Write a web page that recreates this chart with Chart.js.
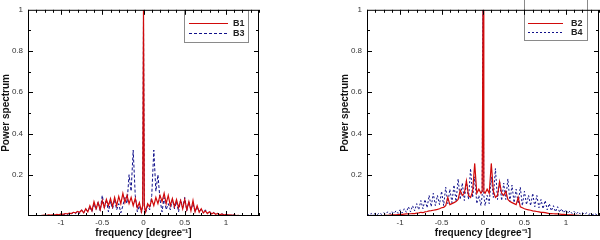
<!DOCTYPE html>
<html>
<head>
<meta charset="utf-8">
<script src="https://cdn.jsdelivr.net/npm/chart.js@4/dist/chart.umd.min.js"></script>
<style>
  html, body { margin: 0; padding: 0; background: #fff; }
  #wrap { position: relative; width: 600px; height: 240px; }
  .panel { position: absolute; top: 0; width: 300px; height: 240px; }
</style>
</head>
<body>
<div id="wrap">
  <div class="panel" style="left:0"><canvas id="left"></canvas></div>
  <div class="panel" style="left:300px"><canvas id="right"></canvas></div>
</div>
<script>
// frequency grid [degree^-1]
const freq = [
  -1.4, -1.375, -1.35, -1.325, -1.3, -1.275, -1.25, -1.225, -1.2, -1.175,
  -1.15, -1.125, -1.1, -1.075, -1.05, -1.025, -1, -0.975, -0.95, -0.925,
  -0.9, -0.875, -0.85, -0.825, -0.8, -0.775, -0.75, -0.725, -0.7, -0.675,
  -0.65, -0.625, -0.6, -0.575, -0.55, -0.525, -0.5, -0.475, -0.45, -0.425,
  -0.4, -0.375, -0.35, -0.325, -0.3, -0.275, -0.25, -0.225, -0.2, -0.175,
  -0.15, -0.125, -0.1, -0.075, -0.05, -0.025,
  -0.01, 0, 0.01,
  0.025, 0.05, 0.075, 0.1, 0.125, 0.15, 0.175, 0.2, 0.225, 0.25,
  0.275, 0.3, 0.325, 0.35, 0.375, 0.4, 0.425, 0.45, 0.475, 0.5,
  0.525, 0.55, 0.575, 0.6, 0.625, 0.65, 0.675, 0.7, 0.725, 0.75,
  0.775, 0.8, 0.825, 0.85, 0.875, 0.9, 0.925, 0.95, 0.975, 1,
  1.025, 1.05, 1.075, 1.1, 1.125, 1.15, 1.175, 1.2, 1.225, 1.25,
  1.275, 1.3, 1.325, 1.35, 1.375, 1.4
];

// left panel
const B1 = [
  0, 0, 0, 0, 0, 0.001, 0.002, 0.003, 0.004, 0.003,
  0.005, 0.004, 0.006, 0.005, 0.008, 0.006, 0.01, 0.008, 0.012, 0.01,
  0.014, 0.012, 0.018, 0.015, 0.022, 0.018, 0.028, 0.015, 0.035, 0.02,
  0.05, 0.025, 0.07, 0.035, 0.065, 0.03, 0.075, 0.04, 0.08, 0.05,
  0.085, 0.045, 0.09, 0.05, 0.095, 0.06, 0.11, 0.065, 0.1, 0.06,
  0.09, 0.05, 0.085, 0.04, 0.065, 0.02,
  0.05, 1.0, 0.05,
  0.02, 0.06, 0.045, 0.08, 0.05, 0.09, 0.06, 0.1, 0.07, 0.11,
  0.06, 0.1, 0.05, 0.085, 0.045, 0.08, 0.04, 0.075, 0.035, 0.08,
  0.03, 0.07, 0.025, 0.075, 0.02, 0.05, 0.018, 0.035, 0.015, 0.025,
  0.012, 0.02, 0.01, 0.016, 0.008, 0.012, 0.006, 0.01, 0.005, 0.008,
  0.004, 0.006, 0.003, 0.005, 0.002, 0.003, 0.001, 0.002, 0, 0.001,
  0, 0, 0, 0, 0, 0
];
const B3 = [
  0, 0, 0, 0, 0, 0, 0.001, 0, 0.002, 0.001,
  0.003, 0.002, 0.005, 0.003, 0.006, 0.004, 0.008, 0.005, 0.01, 0.007,
  0.012, 0.008, 0.018, 0.01, 0.025, 0.012, 0.03, 0.015, 0.035, 0.02,
  0.045, 0.02, 0.06, 0.03, 0.07, 0.025, 0.1, 0.04, 0.08, 0.02,
  0.07, 0.035, 0.08, 0.03, 0.06, 0.015, 0.05, 0.09, 0.06, 0.2,
  0.12, 0.32, 0.1, 0.02, 0.05, 0.015,
  0.05, 0.98, 0.05,
  0.015, 0.05, 0.03, 0.1, 0.32, 0.12, 0.2, 0.08, 0.02, 0.09,
  0.03, 0.06, 0.03, 0.08, 0.035, 0.07, 0.02, 0.08, 0.04, 0.09,
  0.025, 0.07, 0.03, 0.06, 0.02, 0.045, 0.02, 0.035, 0.015, 0.03,
  0.012, 0.025, 0.01, 0.018, 0.008, 0.012, 0.005, 0.01, 0.007, 0.008,
  0.004, 0.006, 0.003, 0.005, 0.002, 0.002, 0.001, 0.001, 0, 0.001,
  0, 0, 0, 0, 0, 0
];

// right panel
const B2 = [
  0, 0, 0, 0, 0, 0.001, 0.001, 0.002, 0.002, 0.003,
  0.003, 0.004, 0.005, 0.005, 0.006, 0.007, 0.008, 0.008, 0.009, 0.01,
  0.01, 0.011, 0.012, 0.012, 0.014, 0.015, 0.018, 0.016, 0.02, 0.022,
  0.025, 0.026, 0.028, 0.03, 0.032, 0.035, 0.04, 0.042, 0.05, 0.09,
  0.055, 0.06, 0.065, 0.07, 0.08, 0.125, 0.1, 0.11, 0.17, 0.1,
  0.09, 0.12, 0.255, 0.11, 0.13, 0.11,
  0.12, 1.0, 0.12,
  0.11, 0.13, 0.11, 0.255, 0.12, 0.09, 0.1, 0.165, 0.11, 0.1,
  0.12, 0.08, 0.07, 0.065, 0.06, 0.055, 0.09, 0.045, 0.04, 0.035,
  0.032, 0.03, 0.028, 0.025, 0.024, 0.022, 0.02, 0.018, 0.018, 0.016,
  0.014, 0.012, 0.012, 0.011, 0.01, 0.01, 0.009, 0.008, 0.008, 0.007,
  0.006, 0.005, 0.005, 0.004, 0.003, 0.003, 0.002, 0.002, 0.001, 0.001,
  0, 0, 0, 0, 0, 0
];
const B4 = [
  0.01, 0.005, 0.012, 0.006, 0.013, 0.007, 0.015, 0.008, 0.016, 0.009,
  0.02, 0.01, 0.022, 0.012, 0.025, 0.013, 0.03, 0.015, 0.035, 0.018,
  0.045, 0.02, 0.05, 0.025, 0.06, 0.03, 0.075, 0.035, 0.08, 0.04,
  0.1, 0.045, 0.11, 0.05, 0.1, 0.055, 0.12, 0.05, 0.14, 0.06,
  0.13, 0.065, 0.15, 0.07, 0.18, 0.08, 0.16, 0.075, 0.17, 0.08,
  0.23, 0.09, 0.19, 0.06, 0.1, 0.05,
  0.1, 1.0, 0.1,
  0.05, 0.1, 0.06, 0.19, 0.09, 0.23, 0.08, 0.17, 0.075, 0.16,
  0.08, 0.18, 0.07, 0.15, 0.065, 0.13, 0.06, 0.14, 0.05, 0.12,
  0.055, 0.1, 0.05, 0.11, 0.045, 0.1, 0.04, 0.08, 0.035, 0.075,
  0.03, 0.06, 0.025, 0.05, 0.02, 0.045, 0.018, 0.035, 0.015, 0.03,
  0.013, 0.025, 0.012, 0.022, 0.01, 0.02, 0.009, 0.016, 0.008, 0.015,
  0.007, 0.013, 0.006, 0.012, 0.005, 0.01
];

const xTicks = [-1, -0.5, 0, 0.5, 1];
const yTicks = [0.2, 0.4, 0.6, 0.8, 1];

const RED = '#d10a0a';
const BLUE = '#10108a';
const FONT = 'Arial, "Liberation Sans", sans-serif';

// frame with inward ticks on all sides + boxed legend
const framePlugin = {
  id: 'frame',
  afterDatasetsDraw(chart, args, opts) {
    const { ctx, chartArea: a, scales: { x, y } } = chart;
    ctx.save();
    ctx.lineWidth = 1;

    // legend box
    const lg = opts.legend;
    ctx.fillStyle = '#fff';
    ctx.fillRect(lg.x0, lg.y0, lg.x1 - lg.x0, lg.y1 - lg.y0);
    ctx.strokeStyle = '#8a8a8a';
    ctx.strokeRect(lg.x0 + 0.5, lg.y0 + 0.5, lg.x1 - lg.x0, lg.y1 - lg.y0);
    chart.data.datasets.forEach((ds, i) => {
      const ly = lg.rows[i] + 0.5;
      ctx.strokeStyle = ds.borderColor;
      ctx.lineWidth = ds.borderWidth;
      ctx.setLineDash(ds.borderDash || []);
      ctx.beginPath();
      ctx.moveTo(lg.lx0, ly);
      ctx.lineTo(lg.lx1, ly);
      ctx.stroke();
      ctx.setLineDash([]);
      ctx.fillStyle = '#222';
      ctx.font = 'bold 9px ' + FONT;
      ctx.textBaseline = 'middle';
      ctx.fillText(ds.label, lg.tx, ly);
    });

    ctx.strokeStyle = '#000';
    ctx.lineWidth = 1;
    const seg = (x1, y1, x2, y2) => { ctx.beginPath(); ctx.moveTo(x1, y1); ctx.lineTo(x2, y2); ctx.stroke(); };
    for (let i = -14; i <= 14; i++) {
      const px = Math.round(x.getPixelForValue(i / 10)) + 0.5;
      const len = i % 5 === 0 ? 5 : 3;
      seg(px, a.bottom, px, a.bottom - len);
      seg(px, a.top, px, a.top + len);
    }
    for (let i = 1; i <= 9; i++) {
      const py = Math.round(y.getPixelForValue(i / 10)) + 0.5;
      const len = i % 2 === 0 ? 5 : 3;
      seg(a.left, py, a.left + len, py);
      seg(a.right, py, a.right - len, py);
    }
    ctx.strokeRect(a.left + 0.5, a.top + 0.5, a.right - a.left - 1, a.bottom - a.top - 1);
    ctx.restore();
  }
};

function makeChart(id, series, pad, yWidth, legend) {
  const datasets = series.map(s => ({
    label: s.label,
    data: freq.map((f, i) => ({ x: f, y: s.values[i] })),
    borderColor: s.color,
    borderWidth: s.width,
    borderDash: s.dash,
    pointRadius: 0,
    tension: 0,
    fill: false
  }));
  return new Chart(document.getElementById(id), {
    type: 'line',
    data: { datasets },
    options: {
      responsive: true,
      maintainAspectRatio: false,
      animation: false,
      layout: { padding: pad },
      plugins: {
        legend: { display: false },
        tooltip: { enabled: false },
        frame: { legend }
      },
      scales: {
        x: {
          type: 'linear', min: -1.4, max: 1.4,
          grid: { display: false, drawTicks: false },
          border: { display: false },
          afterBuildTicks: sc => { sc.ticks = xTicks.map(v => ({ value: v })); },
          afterFit: sc => { sc.height = 24; },
          ticks: { color: '#333', font: { family: FONT, size: 8 }, padding: 2, maxRotation: 0, callback: v => String(v) },
          title: { display: true, text: 'frequency [degree⁻¹]', color: '#111', font: { family: FONT, size: 10, weight: 'bold' }, padding: { top: 0, bottom: 1 } }
        },
        y: {
          min: 0, max: 1,
          grid: { display: false, drawTicks: false },
          border: { display: false },
          afterBuildTicks: sc => { sc.ticks = yTicks.map(v => ({ value: v })); },
          afterFit: sc => { sc.width = yWidth; },
          ticks: { color: '#333', font: { family: FONT, size: 8 }, padding: 5, callback: v => String(v) },
          title: { display: true, text: 'Power spectrum', color: '#111', font: { family: FONT, size: 10, weight: 'bold' }, padding: { top: 0, bottom: 0 } }
        }
      }
    },
    plugins: [framePlugin]
  });
}

makeChart('left', [
  { label: 'B1', values: B1, color: RED, width: 1.2, dash: [] },
  { label: 'B3', values: B3, color: BLUE, width: 1, dash: [3, 2] }
], { top: 4, right: 41, bottom: 0, left: 0 }, 28,
  { x0: 184, y0: 10, x1: 248, y1: 42, lx0: 189, lx1: 228, tx: 233, rows: [23, 33] });

makeChart('right', [
  { label: 'B2', values: B2, color: RED, width: 1.2, dash: [] },
  { label: 'B4', values: B4, color: BLUE, width: 1, dash: [2, 2] }
], { top: 4, right: 1, bottom: 0, left: 39 }, 28,
  { x0: 224, y0: -2, x1: 287, y1: 40, lx0: 228, lx1: 263, tx: 271, rows: [23, 32] });
</script>
</body>
</html>
